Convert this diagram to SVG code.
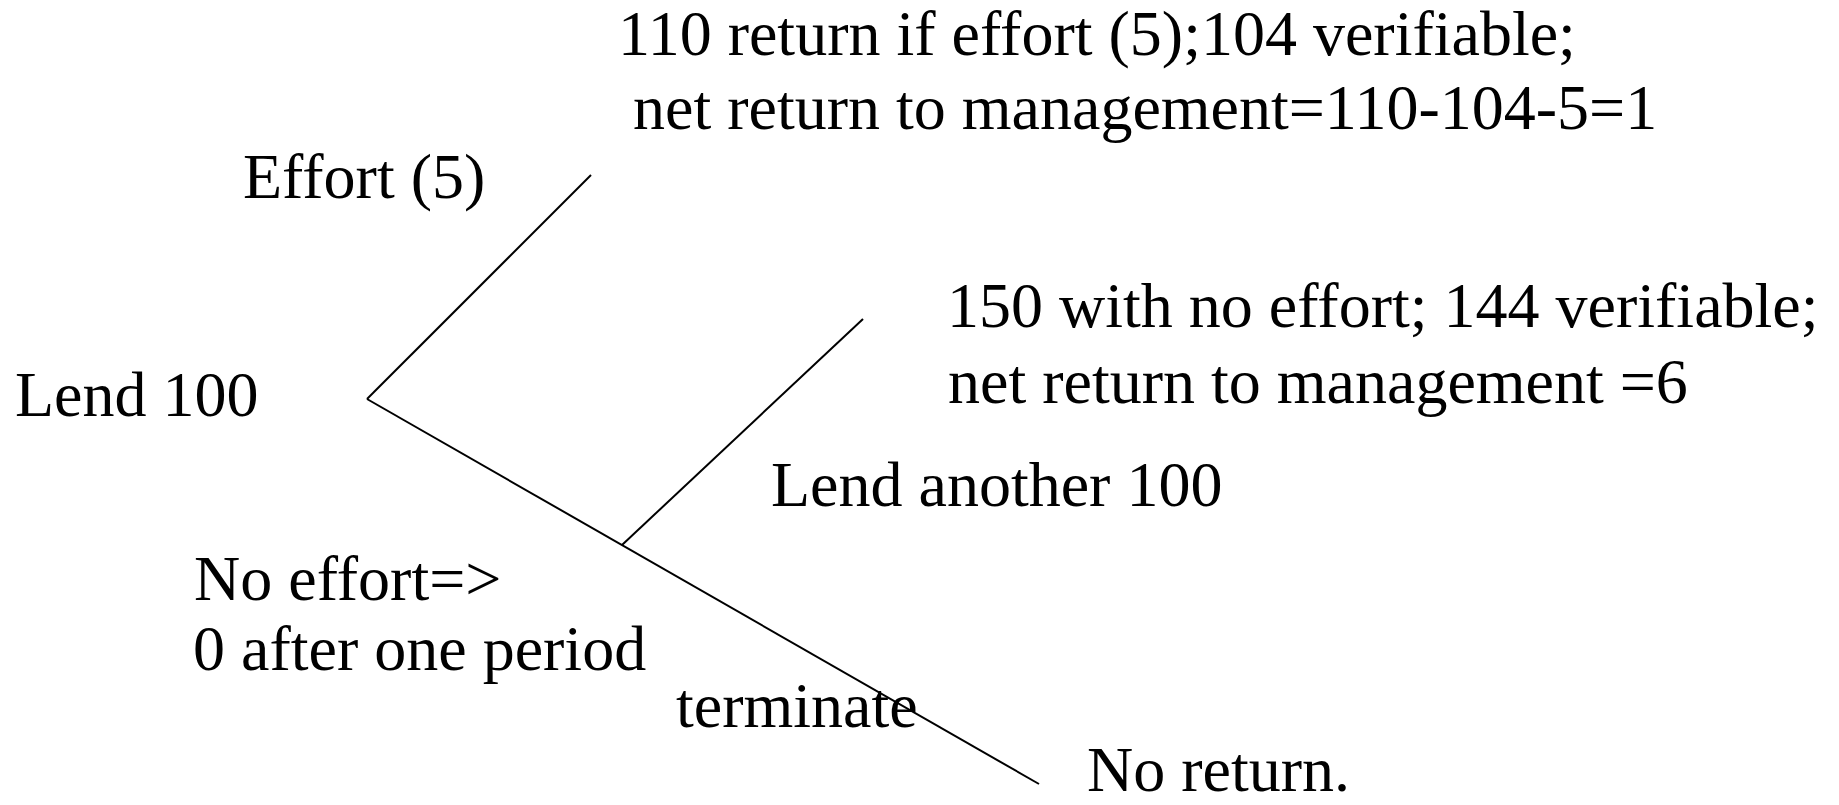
<svg xmlns="http://www.w3.org/2000/svg" width="1839" height="805" viewBox="0 0 1839 805">
<style>
text{font-family:"Liberation Serif","Times New Roman",serif;font-size:64px;fill:#000}
line{stroke:#000;stroke-width:2;fill:none}
</style>
<rect width="1839" height="805" fill="#fff"/>
<g id="connectors">
<line x1="367" y1="399" x2="591" y2="175"/>
<line x1="367" y1="399" x2="1039" y2="784"/>
<line x1="622" y1="545" x2="863" y2="319"/>
</g>
<g id="n-effort-outcome"><text x="618" y="55">110 return if effort (5);104 verifiable;</text><text x="633" y="129">net return to management=110-104-5=1</text></g>
<g id="n-effort"><text x="243" y="198">Effort (5)</text></g>
<g id="n-lend"><text x="15" y="416">Lend 100</text></g>
<g id="n-noeffort-outcome"><text x="947" y="327">150 with no effort; 144 verifiable;</text><text x="948" y="403">net return to management =6</text></g>
<g id="n-lend-another"><text x="771" y="506">Lend another 100</text></g>
<g id="n-noeffort"><text x="194" y="600">No effort=&gt;</text><text x="193" y="670">0 after one period</text></g>
<g id="n-terminate"><text x="676" y="727">terminate</text></g>
<g id="n-noreturn"><text x="1087" y="791">No return.</text></g>
</svg>
